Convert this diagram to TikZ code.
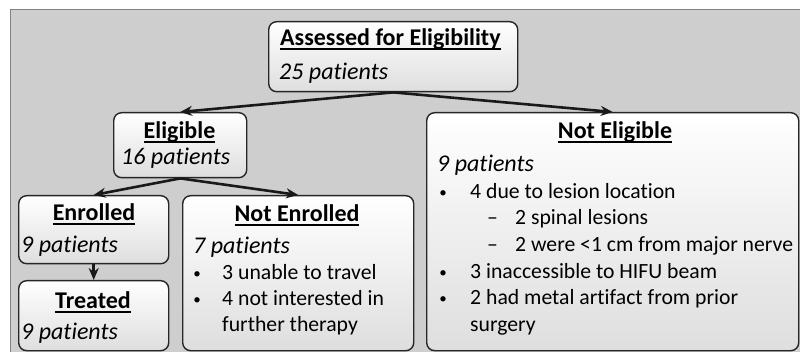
\documentclass[tikz,border=0pt]{standalone}
\usepackage{fontspec}
\setmainfont{Carlito}[Ligatures={NoCommon}]
\usetikzlibrary{arrows.meta}
\definecolor{panel}{RGB}{206,206,206}
\definecolor{panelrule}{RGB}{130,130,130}
\definecolor{boxlow}{RGB}{222,222,222}
% underline drawn just below the baseline
\newcommand{\ulbox}[1]{{\setbox0\hbox{#1}\rlap{\vrule height -2.4pt depth 4.4pt width \wd0}\box0}}
\newcommand{\headfont}{\fontsize{24}{29}\selectfont}
\newcommand{\bodyfont}{\fontsize{21.7}{26.5}\selectfont}
\tikzset{
  card/.style={draw=black!85, line width=1.4pt, rounded corners=8pt,
    top color=white, bottom color=boxlow, anchor=north west, inner sep=0pt},
  head/.style={font=\headfont\bfseries, inner sep=0pt, anchor=base},
  count/.style={font=\headfont\itshape, inner sep=0pt, anchor=base west},
  item/.style={font=\bodyfont, inner sep=0pt, anchor=base west},
  dot/.style={font=\fontsize{15}{18}\selectfont, inner sep=0pt, anchor=base},
  flow/.style={line width=2.6pt, draw=black!90, -{Stealth[length=12pt,width=10pt]}}
}
\begin{document}
\begin{tikzpicture}[x=1pt,y=-1pt]
\useasboundingbox (0,0) rectangle (800,352);
\fill[white] (0,0) rectangle (800,352);
\fill[panel] (10,10) rectangle (800,352);
\draw[panelrule, line width=1pt] (10,352) -- (10,10) -- (800,10);

% boxes
\node[card, minimum width=249pt, minimum height=70pt] (assess) at (268,21) {};
\node[card, minimum width=133pt, minimum height=65pt] (elig) at (113,112) {};
\node[card, minimum width=372pt, minimum height=238pt] (nelig) at (426,112) {};
\node[card, minimum width=150pt, minimum height=68pt] (enrol) at (18,195) {};
\node[card, minimum width=150pt, minimum height=70pt] (treat) at (18,280) {};
\node[card, minimum width=231pt, minimum height=155pt] (nenrol) at (182,195) {};

% connectors
\draw[flow] (assess.south) -- (elig.north);
\draw[flow] (assess.south) -- (nelig.north);
\draw[flow] (elig.south) -- (enrol.north);
\draw[flow] (elig.south) -- (nenrol.north);
\draw[flow] (enrol.south) -- (treat.north);

% Assessed for Eligibility
\node[head, anchor=base west] (t1) at (280,46) {\ulbox{Assessed for Eligibility}};
\node[count] (c1) at (279,80) {25 patients};

% Eligible
\node[head] (t2) at (179.5,139) {\ulbox{Eligible}};
\node[count] (c2) at (121,165) {16 patients};

% Enrolled / Treated
\node[head] (t3) at (94,221) {\ulbox{Enrolled}};
\node[count] (c3) at (21,253) {9 patients};
\node[head] (t4) at (93,309) {\ulbox{Treated}};
\node[count] (c4) at (21,339) {9 patients};

% Not Enrolled
\node[head] (t5) at (297,222) {\ulbox{Not Enrolled}};
\node[count] (c5) at (193,254) {7 patients};
\node[dot] (b51) at (197,279) {•};
\node[item] (l51) at (222,280) {3 unable to travel};
\node[dot] (b52) at (197,305) {•};
\node[item] (l52) at (222,306) {4 not interested in};
\node[item] (l53) at (222,332) {further therapy};

% Not Eligible
\node[head] (t6) at (615,139) {\ulbox{Not Eligible}};
\node[count] (c6) at (437,172) {9 patients};
\node[dot] (b61) at (443,198) {•};
\node[item] (l61) at (470,199) {4 due to lesion location};
\node[item] (d62) at (487,225) {–};
\node[item] (l62) at (515,225) {2 spinal lesions};
\node[item] (d63) at (487,252) {–};
\node[item] (l63) at (515,252) {2 were <1 cm from major nerve};
\node[dot] (b64) at (443,278) {•};
\node[item] (l64) at (470,279) {3 inaccessible to HIFU beam};
\node[dot] (b65) at (443,304) {•};
\node[item] (l65) at (470,305) {2 had metal artifact from prior};
\node[item] (l66) at (470,331) {surgery};
\end{tikzpicture}
\end{document}
